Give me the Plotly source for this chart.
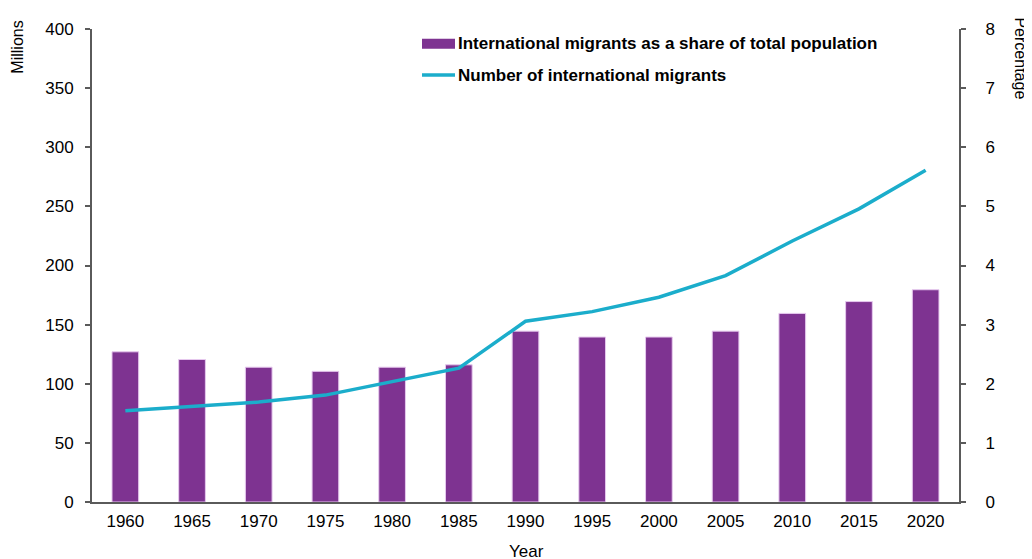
import plotly.graph_objects as go

years = ["1960", "1965", "1970", "1975", "1980", "1985", "1990",
         "1995", "2000", "2005", "2010", "2015", "2020"]
share_pct = [2.54, 2.41, 2.28, 2.21, 2.28, 2.32, 2.89, 2.79, 2.79, 2.89, 3.19, 3.39, 3.59]
migrants_millions = [77.1, 81.0, 84.5, 90.4, 101.9, 113.2, 152.9, 161.0, 173.2, 191.4, 220.7, 247.9, 280.6]

bar_name = "International migrants as a share of total population"
line_name = "Number of international migrants"

PURPLE = "#7E3391"
CYAN = "#1BADCB"
AXIS = "#5a5a5a"
FONT = "Liberation Sans, Arial, Helvetica, sans-serif"

OFF = 8  # page body margin
W, H = 1024, 551
L, R, T, B = 84, 73, 12, 57
PW, PH = W - L - R, H - T - B


def px(x):  # screenshot x -> paper
    return (x - OFF - L) / PW


def py(y):  # screenshot y -> paper
    return (H - B - (y - OFF)) / PH


fig = go.Figure()
fig.add_trace(go.Bar(
    x=years, y=share_pct, name=bar_name, yaxis="y",
    marker=dict(color=PURPLE, line=dict(color="#e6c8ee", width=1)),
    width=0.4, showlegend=False,
))
fig.add_trace(go.Scatter(
    x=years, y=migrants_millions, name=line_name, yaxis="y2",
    mode="lines", line=dict(color=CYAN, width=3.5), showlegend=False,
))

shapes = [
    dict(type="rect", xref="paper", yref="paper",
         x0=px(422), x1=px(455), y0=py(40), y1=py(30),
         fillcolor=PURPLE, line=dict(width=0)),
    dict(type="line", xref="paper", yref="paper",
         x0=px(422), x1=px(455), y0=py(67), y1=py(67),
         line=dict(color=CYAN, width=3.5)),
]
annotations = [
    dict(text="<b>" + bar_name + "</b>", xref="paper", yref="paper",
         x=px(456), y=py(35), xanchor="left", yanchor="middle", showarrow=False,
         font=dict(size=17, color="black", family=FONT)),
    dict(text="<b>" + line_name + "</b>", xref="paper", yref="paper",
         x=px(456), y=py(67), xanchor="left", yanchor="middle", showarrow=False,
         font=dict(size=17, color="black", family=FONT)),
    dict(text="Millions", xref="paper", yref="paper", x=px(18), y=py(39),
         xanchor="center", yanchor="middle", textangle=-90, showarrow=False,
         font=dict(size=16, color="black", family=FONT)),
    dict(text="Percentage", xref="paper", yref="paper", x=px(1021), y=py(50),
         xanchor="center", yanchor="middle", textangle=90, showarrow=False,
         font=dict(size=16, color="black", family=FONT)),
    dict(text="Year", xref="paper", yref="paper", x=px(526), y=py(552),
         xanchor="center", yanchor="middle", showarrow=False,
         font=dict(size=17, color="black", family=FONT)),
]

fig.update_layout(
    width=W, height=H,
    margin=dict(l=L, r=R, t=T, b=B, pad=0),
    paper_bgcolor="white", plot_bgcolor="white",
    font=dict(family=FONT, size=17, color="black"),
    showlegend=False,
    shapes=shapes, annotations=annotations,
    xaxis=dict(
        type="category", range=[-0.5, 12.5], showgrid=False,
        showline=True, linecolor=AXIS, linewidth=2, ticks="",
        tickfont=dict(size=17), zeroline=False, ticklabelstandoff=3,
    ),
    yaxis=dict(
        side="right", range=[0, 8], dtick=1, showgrid=False, zeroline=False,
        showline=True, linecolor=AXIS, linewidth=2,
        ticks="outside", ticklen=5, tickcolor=AXIS, tickwidth=1.5,
        tickfont=dict(size=17), ticklabelstandoff=16,
    ),
    yaxis2=dict(
        overlaying="y", side="left", range=[0, 400], dtick=50,
        showgrid=False, zeroline=False,
        showline=True, linecolor=AXIS, linewidth=2,
        ticks="outside", ticklen=5, tickcolor=AXIS, tickwidth=1.5,
        tickfont=dict(size=17), ticklabelstandoff=8,
    ),
)

fig.write_html("out.html")
